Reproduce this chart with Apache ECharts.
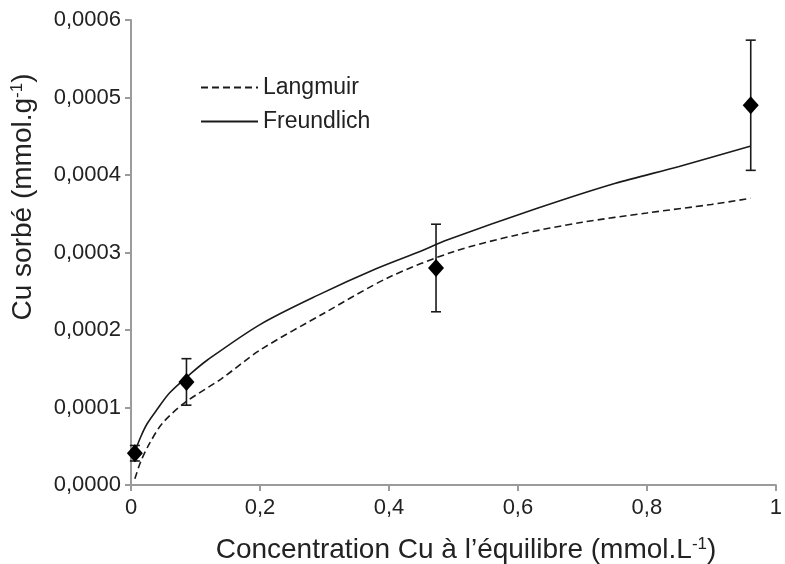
<!DOCTYPE html>
<html>
<head>
<meta charset="utf-8">
<script src="https://cdn.jsdelivr.net/npm/echarts@6/dist/echarts.min.js"></script>
<style>
html,body{margin:0;padding:0;background:#fff;}
#chart{width:785px;height:564px;}
</style>
</head>
<body>
<div id="chart"></div>
<script>
// Measured points (concentration, sorbed Cu, error half-width)
const pointC = [0.006, 0.086, 0.473, 0.961];
const pointQ = [0.000041, 0.000133, 0.00028, 0.00049];
const pointErr = [0.00001, 0.00003, 0.0000565, 0.000084];

// Fitted curves
const langmuirC = [0.006, 0.015, 0.029, 0.049, 0.083, 0.14, 0.2, 0.3, 0.4, 0.5, 0.6, 0.7, 0.8, 0.9, 0.961];
const langmuirQ = [0.000008, 0.00003, 0.000054, 0.00008, 0.000106, 0.000137, 0.000174, 0.000222, 0.000268, 0.000301, 0.000323, 0.000339, 0.000351, 0.000362, 0.00037];
const freundlichC = [0.006, 0.015, 0.025, 0.04, 0.06, 0.093, 0.118, 0.2, 0.29, 0.38, 0.45, 0.49, 0.63, 0.75, 0.85, 0.96];
const freundlichQ = [0.000043, 0.000062, 0.000079, 0.000097, 0.000119, 0.000144, 0.000161, 0.000207, 0.000245, 0.000279, 0.000302, 0.000316, 0.000357, 0.000389, 0.000411, 0.000437];

const seriesNames = ['Langmuir', 'Freundlich'];
const xTickLabels = ['0', '0,2', '0,4', '0,6', '0,8', '1'];
const yTickLabels = ['0,0000', '0,0001', '0,0002', '0,0003', '0,0004', '0,0005', '0,0006'];
const xTitle = ['Concentration Cu à l’équilibre (mmol.L', '-1', ')'];
const yTitle = ['Cu sorbé (mmol.g', '-1', ')'];

const FONT = 'Liberation Sans, Arial, sans-serif';
const chart = echarts.init(document.getElementById('chart'), null, {renderer: 'canvas'});

const zip = (a, b) => a.map((v, i) => [v, b[i]]);
const errData = pointC.map((c, i) => [c, pointQ[i] - pointErr[i], pointQ[i] + pointErr[i]]);

const option = {
  animation: false,
  backgroundColor: '#ffffff',
  grid: {left: 131, right: 3, top: 20, bottom: 79, containLabel: false},
  legend: {
    orient: 'vertical',
    left: 195,
    top: 71,
    itemWidth: 57,
    itemHeight: 14,
    itemGap: 11,
    data: seriesNames,
    itemStyle: {opacity: 0},
    textStyle: {fontFamily: FONT, fontSize: 23, color: '#222'}
  },
  xAxis: {
    type: 'value', min: 0, max: 1, interval: 0.2,
    axisLine: {lineStyle: {color: '#9b9b9b', width: 2}},
    axisTick: {show: true, length: 6, lineStyle: {color: '#9b9b9b', width: 2}},
    splitLine: {show: false},
    axisLabel: {
      margin: 12, fontFamily: FONT, fontSize: 22, color: '#222',
      formatter: v => xTickLabels[Math.round(v / 0.2)]
    }
  },
  yAxis: {
    type: 'value', min: 0, max: 0.0006, interval: 0.0001,
    axisLine: {show: true, lineStyle: {color: '#9b9b9b', width: 2}},
    axisTick: {show: true, length: 6, lineStyle: {color: '#9b9b9b', width: 2}},
    splitLine: {show: false},
    axisLabel: {
      margin: 10, fontFamily: FONT, fontSize: 22, color: '#222',
      formatter: v => yTickLabels[Math.round(v / 0.0001)]
    }
  },
  graphic: [
    {
      type: 'text', x: 466, y: 550,
      style: {
        text: '{a|' + xTitle[0] + '}{s|' + xTitle[1] + '}{a|' + xTitle[2] + '}',
        align: 'center', verticalAlign: 'middle',
        rich: {
          a: {fontFamily: FONT, fontSize: 28, fill: '#222'},
          s: {fontFamily: FONT, fontSize: 17, fill: '#222', verticalAlign: 'top', padding: [0, 0, 12, 0]}
        }
      }
    },
    {
      type: 'text',
      x: 23, y: 197,
      rotation: Math.PI / 2,
      style: {
        text: '{a|' + yTitle[0] + '}{s|' + yTitle[1] + '}{a|' + yTitle[2] + '}',
        align: 'center', verticalAlign: 'middle',
        rich: {
          a: {fontFamily: FONT, fontSize: 28, fill: '#222'},
          s: {fontFamily: FONT, fontSize: 17, fill: '#222', verticalAlign: 'top', padding: [0, 0, 12, 0]}
        }
      }
    }
  ],
  series: [
    {
      name: seriesNames[0], type: 'line', data: zip(langmuirC, langmuirQ),
      smooth: 0.3, showSymbol: false, symbol: 'none',
      lineStyle: {color: '#1a1a1a', width: 1.6, type: [7, 4]},
      itemStyle: {color: '#1a1a1a'}, z: 2
    },
    {
      name: seriesNames[1], type: 'line', data: zip(freundlichC, freundlichQ),
      smooth: 0.3, showSymbol: false, symbol: 'none',
      lineStyle: {color: '#1a1a1a', width: 1.6},
      itemStyle: {color: '#1a1a1a'}, z: 2
    },
    {
      name: 'err', type: 'custom', data: errData, z: 3,
      renderItem: function (params, api) {
        const x = api.value(0);
        const lo = api.coord([x, api.value(1)]);
        const hi = api.coord([x, api.value(2)]);
        const hw = 5;
        const st = {stroke: '#1a1a1a', lineWidth: 1.6};
        return {
          type: 'group',
          children: [
            {type: 'line', shape: {x1: lo[0], y1: lo[1], x2: hi[0], y2: hi[1]}, style: st},
            {type: 'line', shape: {x1: lo[0] - hw, y1: lo[1], x2: lo[0] + hw, y2: lo[1]}, style: st},
            {type: 'line', shape: {x1: hi[0] - hw, y1: hi[1], x2: hi[0] + hw, y2: hi[1]}, style: st}
          ]
        };
      }
    },
    {
      name: 'points', type: 'scatter', data: zip(pointC, pointQ), z: 4,
      symbol: 'diamond', symbolSize: [16, 18],
      itemStyle: {color: '#000000', opacity: 1}
    }
  ]
};
chart.setOption(option);
</script>
</body>
</html>
